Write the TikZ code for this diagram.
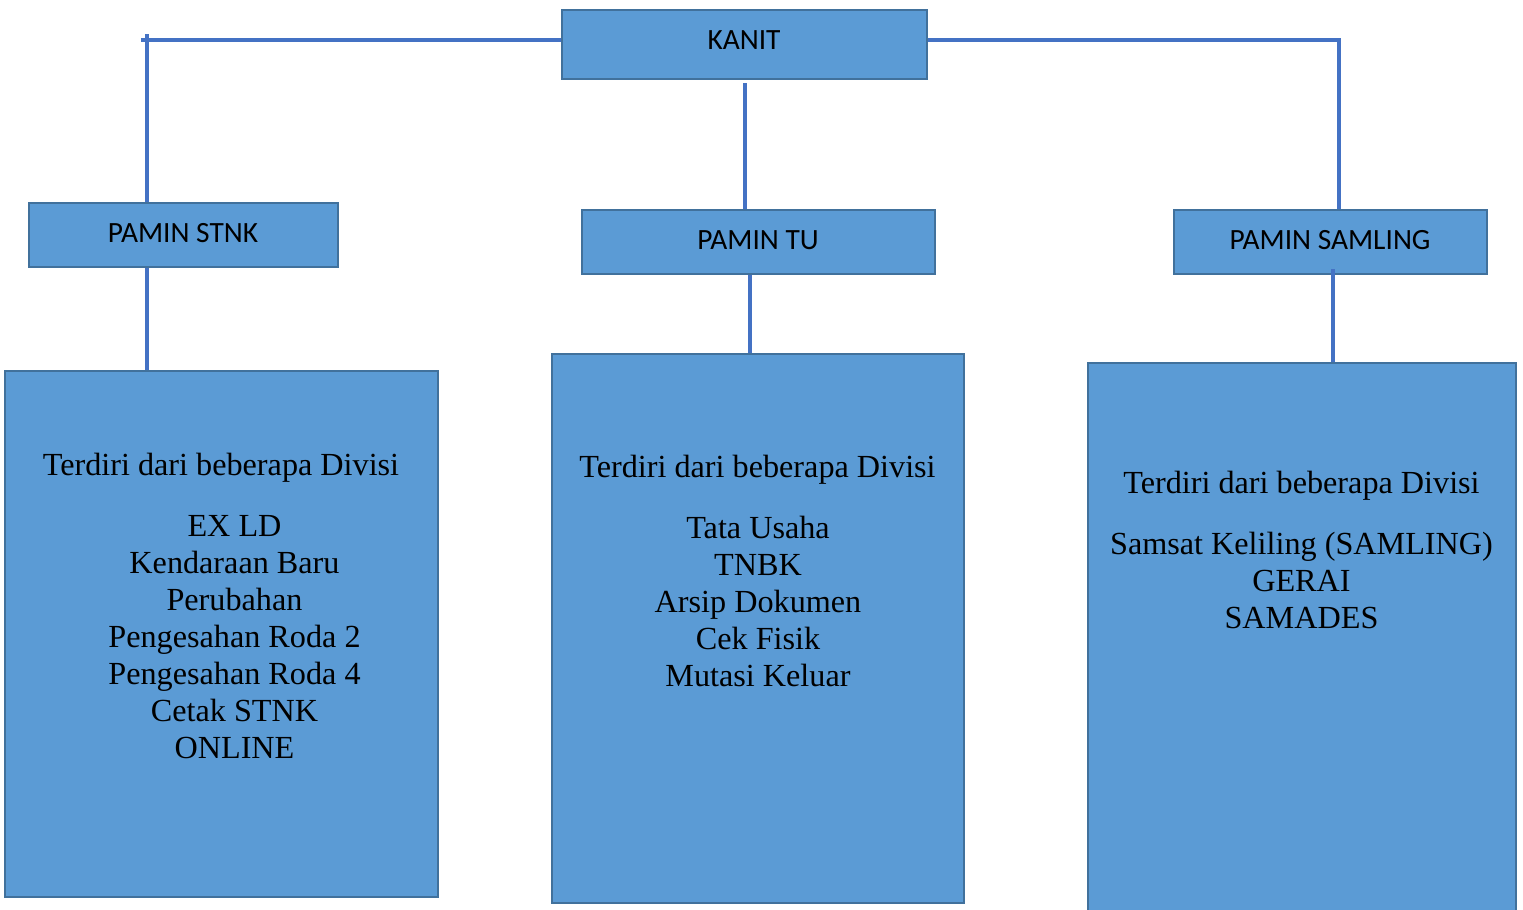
\documentclass[tikz,border=0pt]{standalone}
\usepackage{fontspec}
\setmainfont{Liberation Serif}
\newfontfamily\calibri{Carlito}
\usetikzlibrary{positioning}

\definecolor{boxfill}{HTML}{5B9BD5}
\definecolor{boxline}{HTML}{41719C}
\definecolor{linkblue}{HTML}{4472C4}

\begin{document}
\begin{tikzpicture}[
    x=0.5pt, y=-0.5pt,
    unitbox/.style={rectangle, draw=boxline, fill=boxfill, line width=1.3pt, inner sep=0pt},
    headtext/.style={font=\calibri\fontsize{14.7}{17}\selectfont, inner sep=0pt},
    divtext/.style={font=\fontsize{16.1}{18.5}\selectfont, align=center, inner sep=0pt},
    link/.style={draw=linkblue, line width=2pt}
]
\useasboundingbox (0,0) rectangle (1523,910);

% Top: Kanit
\node[unitbox, minimum width=182.5pt, minimum height=34.5pt] (kanit) at (744.5,44.5) {};
\node[headtext] (kanit-t) at (744,40) {KANIT};

% Layer 1: Pamin
\node[unitbox, minimum width=154.5pt, minimum height=32pt] (stnk) at (183.5,235) {};
\node[unitbox, minimum width=176.5pt, minimum height=32pt] (tu) at (758.5,242) {};
\node[unitbox, minimum width=156.5pt, minimum height=32pt] (samling) at (1330.5,242) {};
\node[headtext] (stnk-t) at (183,233) {PAMIN STNK};
\node[headtext] (tu-t) at (758,240) {PAMIN TU};
\node[headtext] (samling-t) at (1330,240) {PAMIN SAMLING};

% Layer 2: Divisi
\node[unitbox, minimum width=216.5pt, minimum height=263pt] (stnkdiv) at (221.5,634) {};
\node[unitbox, minimum width=206pt, minimum height=274.5pt] (tudiv) at (758,628.5) {};
\node[unitbox, minimum width=214pt, minimum height=298.5pt] (samdiv) at (1302,661.5) {};

\node[divtext] (stnkdiv-h) at (221,468) {Terdiri dari beberapa Divisi};
\node[divtext] (stnkdiv-l) at (234.5,637.5) {EX LD\\Kendaraan Baru\\Perubahan\\Pengesahan Roda 2\\Pengesahan Roda 4\\Cetak STNK\\ONLINE};
\node[divtext] (tudiv-h) at (757.5,470) {Terdiri dari beberapa Divisi};
\node[divtext] (tudiv-l) at (758,601) {Tata Usaha\\TNBK\\Arsip Dokumen\\Cek Fisik\\Mutasi Keluar};
\node[divtext] (samdiv-h) at (1301.5,486) {Terdiri dari beberapa Divisi};
\node[divtext] (samdiv-l) at (1301.5,580.5) {Samsat Keliling (SAMLING)\\GERAI\\SAMADES};

% Edges
\coordinate (cornerL) at (147,40);
\coordinate (cornerR) at (1339,40);
\draw[link] (cornerL -| kanit.west) -- ([xshift=-3pt]cornerL);
\draw[link] ([yshift=3pt]cornerL) -- (cornerL |- stnk.north);
\draw[link] (cornerR -| kanit.east) -- (cornerR) -- (cornerR |- samling.north);
\draw[link] ([yshift=-1.5pt]kanit.south) -- (kanit.south |- tu.north);
\draw[link] (cornerL |- stnk.south) -- (cornerL |- stnkdiv.north);
\draw[link] ([xshift=-4.25pt]tu.south) -- ([xshift=-4.25pt]tu.south |- tudiv.north);
\draw[link] ([xshift=1.25pt, yshift=3pt]samling.south) -- ([xshift=1.25pt]samling.south |- samdiv.north);
\end{tikzpicture}
\end{document}
